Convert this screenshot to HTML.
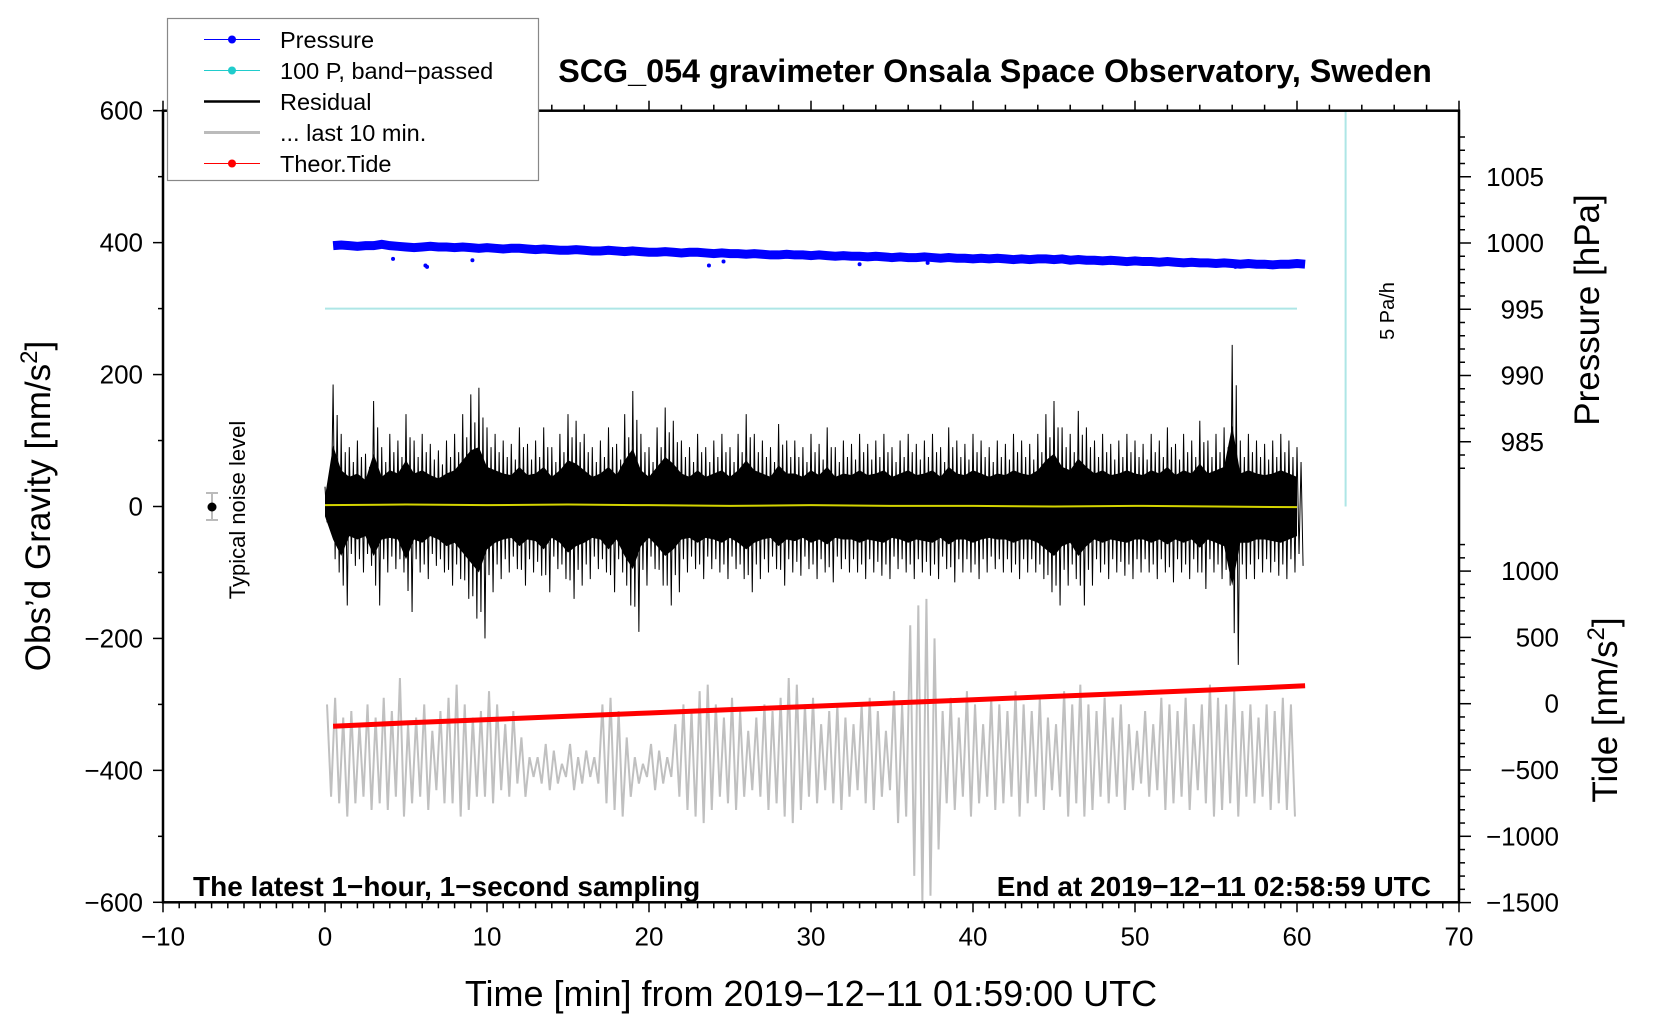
<!DOCTYPE html>
<html><head><meta charset="utf-8"><title>SCG_054 gravimeter chart</title>
<style>
html,body{margin:0;padding:0;background:#fff;}
svg{display:block;font-family:"Liberation Sans",sans-serif;}
</style></head>
<body>
<svg id="chart" width="1660" height="1020" viewBox="0 0 1660 1020" xmlns="http://www.w3.org/2000/svg">
<g id="marks"></g>
<g id="axes"></g>
<text x="995" y="82" text-anchor="middle" font-size="32.3" font-weight="bold">SCG_054 gravimeter Onsala Space Observatory, Sweden</text>
<text x="193" y="896" font-size="28" font-weight="bold">The latest 1−hour, 1−second sampling</text>
<text x="1431" y="896" text-anchor="end" font-size="28" font-weight="bold">End at 2019−12−11 02:58:59 UTC</text>
<text x="811" y="1006" text-anchor="middle" font-size="36">Time [min] from 2019−12−11 01:59:00 UTC</text>
<text transform="translate(50,506) rotate(-90)" text-anchor="middle" font-size="35">Obs’d Gravity [nm/s<tspan dy="-13" font-size="24">2</tspan><tspan dy="13">]</tspan></text>
<text transform="translate(1599,310) rotate(-90)" text-anchor="middle" font-size="35">Pressure [hPa]</text>
<text transform="translate(1617,710) rotate(-90)" text-anchor="middle" font-size="35">Tide [nm/s<tspan dy="-13" font-size="24">2</tspan><tspan dy="13">]</tspan></text>
<text transform="translate(1394,311) rotate(-90)" text-anchor="middle" font-size="20">5 Pa/h</text>
<text transform="translate(245,510) rotate(-90)" text-anchor="middle" font-size="22">Typical noise level</text>
<g>
<line x1="212" y1="493" x2="212" y2="520" stroke="#bbb" stroke-width="2"/>
<line x1="206" y1="493" x2="218" y2="493" stroke="#bbb" stroke-width="2"/>
<line x1="206" y1="520" x2="218" y2="520" stroke="#bbb" stroke-width="2"/>
<circle cx="212" cy="507" r="4.5" fill="#000"/>
</g>
<g>
<rect x="167.5" y="18.5" width="371" height="162" fill="#fff" stroke="#888" stroke-width="1.2"/>
<g><line x1="204" y1="39.5" x2="260" y2="39.5" stroke="#0000ff" stroke-width="1"/><circle cx="232" cy="39.5" r="4" fill="#0000ff"/><text x="280" y="48" font-size="23.5">Pressure</text></g>
<g><line x1="204" y1="70.5" x2="260" y2="70.5" stroke="#20cccc" stroke-width="1"/><circle cx="232" cy="70.5" r="4" fill="#20cccc"/><text x="280" y="79" font-size="23.5">100 P, band−passed</text></g>
<g><line x1="204" y1="101.5" x2="260" y2="101.5" stroke="#000" stroke-width="2.5"/><text x="280" y="110" font-size="23.5">Residual</text></g>
<g><line x1="204" y1="132.5" x2="260" y2="132.5" stroke="#bbb" stroke-width="3"/><text x="280" y="141" font-size="23.5">... last 10 min.</text></g>
<g><line x1="204" y1="163.5" x2="260" y2="163.5" stroke="#ff0000" stroke-width="1"/><circle cx="232" cy="163.5" r="4" fill="#ff0000"/><text x="280" y="172" font-size="23.5">Theor.Tide</text></g>
</g>
</svg>
<script>
// ---- data ----
const residualMax = [30,185,110,90,100,80,160,90,110,100,140,100,110,95,85,100,110,140,170,180,120,110,100,95,120,95,100,120,90,110,140,130,110,90,100,120,95,140,175,110,90,120,150,130,100,90,110,90,100,110,90,110,140,110,100,90,125,100,100,90,110,95,120,90,100,95,110,95,100,110,90,100,110,95,100,110,90,120,100,95,110,100,90,100,95,110,100,95,110,140,160,120,110,145,120,100,110,95,100,110,100,95,110,100,120,95,110,100,130,100,110,120,245,100,110,100,95,100,110,100,90];
const residualMin = [-30,-100,-150,-90,-100,-90,-150,-100,-95,-100,-160,-100,-110,-90,-100,-120,-110,-140,-170,-200,-130,-110,-100,-95,-120,-100,-105,-130,-95,-110,-140,-120,-110,-95,-100,-130,-100,-150,-190,-120,-95,-120,-150,-130,-100,-95,-110,-95,-100,-110,-95,-110,-130,-110,-100,-95,-120,-100,-105,-95,-110,-100,-115,-95,-100,-100,-110,-100,-105,-110,-95,-100,-110,-100,-105,-110,-95,-115,-100,-100,-110,-100,-95,-100,-100,-110,-100,-100,-110,-130,-150,-120,-110,-150,-120,-100,-110,-100,-105,-110,-100,-100,-110,-100,-115,-100,-110,-100,-125,-100,-110,-120,-240,-110,-110,-100,-100,-105,-110,-100,-90];
const grayTop = [-300,-290,-320,-310,-330,-300,-320,-290,-310,-260,-330,-320,-300,-340,-310,-290,-270,-300,-320,-310,-280,-300,-330,-310,-350,-380,-380,-360,-370,-390,-360,-380,-370,-380,-300,-290,-310,-350,-380,-390,-360,-370,-380,-330,-300,-310,-280,-270,-300,-320,-290,-310,-340,-320,-300,-310,-290,-260,-270,-300,-290,-330,-310,-300,-320,-330,-300,-290,-310,-340,-280,-300,-180,-150,-140,-200,-310,-290,-320,-280,-300,-330,-290,-300,-310,-280,-300,-310,-290,-320,-330,-280,-300,-270,-300,-310,-290,-320,-300,-330,-340,-310,-330,-290,-300,-310,-290,-330,-300,-270,-290,-300,-280,-310,-300,-320,-300,-310,-290,-300];
const grayBot = [-440,-450,-470,-450,-440,-460,-450,-460,-440,-470,-450,-440,-460,-430,-450,-450,-470,-460,-440,-440,-450,-430,-440,-420,-440,-410,-420,-430,-420,-410,-430,-420,-410,-420,-450,-460,-470,-440,-420,-410,-430,-420,-410,-440,-460,-470,-480,-460,-440,-450,-460,-440,-430,-440,-460,-450,-470,-480,-460,-440,-450,-430,-450,-460,-440,-430,-450,-460,-440,-430,-480,-470,-560,-600,-590,-520,-450,-460,-440,-470,-450,-440,-460,-450,-440,-470,-450,-440,-460,-430,-440,-470,-450,-470,-460,-440,-450,-440,-460,-430,-420,-440,-430,-460,-450,-440,-460,-430,-450,-470,-460,-450,-470,-440,-450,-440,-460,-450,-460,-470];
const pressureMean = [999.8,999.85,999.8,999.75,999.8,999.8,999.9,999.8,999.75,999.7,999.65,999.7,999.75,999.7,999.7,999.65,999.7,999.65,999.6,999.65,999.6,999.55,999.6,999.6,999.55,999.5,999.55,999.5,999.45,999.45,999.5,999.45,999.4,999.4,999.45,999.4,999.35,999.4,999.35,999.3,999.3,999.35,999.3,999.25,999.3,999.3,999.25,999.2,999.25,999.2,999.2,999.15,999.2,999.15,999.1,999.1,999.15,999.1,999.1,999.05,999.1,999.05,999.0,999.05,999.0,999.0,998.95,999.0,998.95,998.9,998.95,998.9,998.9,998.95,998.9,998.85,998.9,998.85,998.85,998.8,998.85,998.8,998.85,998.8,998.75,998.8,998.75,998.8,998.8,998.75,998.8,998.7,998.75,998.7,998.7,998.65,998.7,998.65,998.6,998.65,998.6,998.6,998.55,998.6,998.55,998.5,998.55,998.5,998.5,998.45,998.5,998.45,998.4,998.45,998.4,998.4,998.35,998.4,998.4,998.45,998.4];
const pressureOutT = [6.2,6.3,4.2,9.1,23.7,24.6,33.0,37.2,48.5,55.1,56.2,57.8,58.6];
const pressureOutV = [998.3,998.2,998.8,998.7,998.3,998.6,998.4,998.5,998.5,998.3,998.2,998.3,998.4];
const yellowVals = [2,3,2,3,2,1,2,1,1,0,1,0,-1];
const tideT = [0.5,5,10,15,20,25,30,35,40,45,50,55,60.5];
const tideV = [-170,-145,-120,-95,-70,-45,-20,5,30,55,80,105,135];
const bandPassT = [0,60];
const bandPassV = [300,300];
const xTicks = [-10,0,10,20,30,40,50,60,70];
const yTicks = [-600,-400,-200,0,200,400,600];
const pTicks = [985,990,995,1000,1005];
const tTicks = [-1500,-1000,-500,0,500,1000];
// ---- scales ----
const X0=163,X1=1459,Y0=110.7,Y1=902.3;
const xs=t=>X0+(t+10)*(X1-X0)/80;
const ys=g=>506.5-g*(Y1-Y0)/1200;
const ps=p=>243-(p-1000)*13.25;
const ts=v=>703.7-v*0.1326;
const NS="http://www.w3.org/2000/svg";
const marks=document.getElementById('marks'), axes=document.getElementById('axes');
function mk(tag,attrs,parent){const e=document.createElementNS(NS,tag);for(const k in attrs)e.setAttribute(k,attrs[k]);parent.appendChild(e);return e;}
// band-passed
let bp=mk('polyline',{points:bandPassT.map((t,i)=>xs(t)+','+ys(bandPassV[i])).join(' '),fill:'none',stroke:'#aee6e6','stroke-width':2},marks);


let sb=mk('line',{x1:xs(63),y1:ys(600),x2:xs(63),y2:ys(0),stroke:'#aee6e6','stroke-width':2},marks);


// gray last 10 min
let gp=[];grayTop.forEach((v,i)=>{gp.push(xs(i*0.5+0.125)+','+ys(v));gp.push(xs(i*0.5+0.375)+','+ys(grayBot[i]));});
let gl=mk('polyline',{points:gp.join(' '),fill:'none',stroke:'#c0c0c0','stroke-width':2},marks);


// tide
let tl=mk('polyline',{points:tideT.map((t,i)=>xs(t)+','+ts(tideV[i])).join(' '),fill:'none',stroke:'#ff0000','stroke-width':5},marks);


// residual
let rg=mk('g',{},marks);


let env=residualMax.map((v,i)=>xs(i*0.5)+','+ys(v*0.5)).concat(residualMin.map((v,i)=>xs(i*0.5)+','+ys(v*0.5)).reverse());
mk('polygon',{points:env.join(' '),fill:'#000'},rg);
let rp=[];residualMax.forEach((v,i)=>{rp.push(xs(i*0.5)+','+ys(v));rp.push(xs(i*0.5+0.125)+','+ys(residualMin[i]*0.8));rp.push(xs(i*0.5+0.25)+','+ys(v*0.75));rp.push(xs(i*0.5+0.375)+','+ys(residualMin[i]));});
mk('polyline',{points:rp.join(' '),fill:'none',stroke:'#000','stroke-width':1},rg);
// yellow
let yl=mk('polyline',{points:yellowVals.map((v,i)=>xs(i*5)+','+ys(v)).join(' '),fill:'none',stroke:'#d4d400','stroke-width':2},marks);


// pressure
let pg=mk('g',{},marks);


mk('polyline',{points:pressureMean.map((p,i)=>xs(i*0.5+0.5)+','+ps(p)).join(' '),fill:'none',stroke:'#0000ff','stroke-width':9},pg);
pressureOutT.forEach((t,i)=>{mk('circle',{cx:xs(t),cy:ps(pressureOutV[i]),r:2,fill:'#0000ff'},pg);});
// frame
let fr=mk('rect',{x:X0,y:Y0,width:X1-X0,height:Y1-Y0,fill:'none',stroke:'#000','stroke-width':2.5},axes);


// x ticks
for(let t=-10;t<=70;t+=1){const big=t%10===0;const h=big?10:6;
 mk('line',{x1:xs(t),y1:Y1,x2:xs(t),y2:Y1+h,stroke:'#000','stroke-width':1.5},axes);
 if(big||t%2===0) mk('line',{x1:xs(t),y1:Y0,x2:xs(t),y2:Y0-h,stroke:'#000','stroke-width':1.5},axes);}
xTicks.forEach(t=>{let e=mk('text',{x:xs(t),y:Y1+43,'text-anchor':'middle','font-size':26},axes);e.textContent=String(t).replace('-','−');
 
 });
// left y ticks
for(let g=-600;g<=600;g+=100){const h=g%200===0?10:5;mk('line',{x1:X0-h,y1:ys(g),x2:X0,y2:ys(g),stroke:'#000','stroke-width':1.5},axes);}
yTicks.forEach(g=>{let e=mk('text',{x:X0-20,y:ys(g)+9,'text-anchor':'end','font-size':26},axes);e.textContent=String(g).replace('-','−');
 
 });
// pressure ticks
for(let p=983;p<=1008;p+=1){const y=ps(p);if(y<Y0+3||y>ps(983))continue;mk('line',{x1:X1,y1:y,x2:X1+(p%5===0?12:6),y2:y,stroke:'#000','stroke-width':1.5},axes);}
pTicks.forEach(p=>{let e=mk('text',{x:X1+85,y:ps(p)+9,'text-anchor':'end','font-size':26},axes);e.textContent=p;
 
 });
// tide ticks
for(let v=-1500;v<=1200;v+=100){const y=ts(v);if(y<540)continue;mk('line',{x1:X1,y1:y,x2:X1+(v%500===0?12:6),y2:y,stroke:'#000','stroke-width':1.5},axes);}
tTicks.forEach(v=>{let e=mk('text',{x:X1+100,y:ts(v)+9,'text-anchor':'end','font-size':26},axes);e.textContent=String(v).replace('-','−');
 
 });
</script>
</body></html>
